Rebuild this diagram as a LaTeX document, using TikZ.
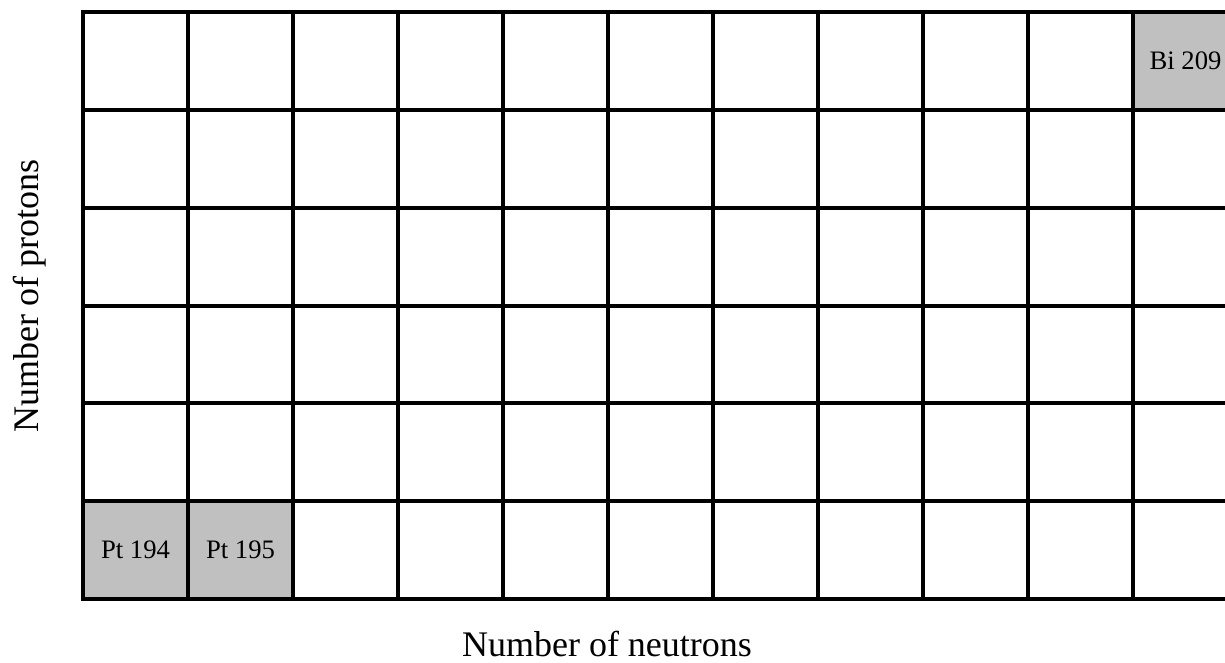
\documentclass[tikz,border=0pt]{standalone}
\usepackage{fontspec}
\setmainfont{Liberation Serif}
\definecolor{isogray}{HTML}{C0C0C0}
\begin{document}
\begin{tikzpicture}[x=0.75pt,y=0.75pt,
  iso/.style={fill=isogray,minimum width=78.75pt,minimum height=73.4pt,
    inner sep=0pt,font=\fontsize{20}{23}\selectfont},
  axis/.style={font=\fontsize{27}{32}\selectfont,anchor=base},
  gridline/.style={line width=3pt,line cap=rect}]
\useasboundingbox (0,0) rectangle (1225,662);
% the known isotopes
\node[iso] (pt194) at (135.5,111.9) {Pt 194};
\node[iso] (pt195) at (240.5,111.9) {Pt 195};
\node[iso] (bi209) at (1185.5,601.1) {Bi 209};
% chart grid
\foreach \i in {0,...,10}
  \draw[gridline] (83+105*\i,63) -- (83+105*\i,650);
\foreach \j in {0,...,6}
  \draw[gridline] (83,63+97.83*\j) -- (1240,63+97.83*\j);
% axes
\node[axis] (neutrons) at (607,6) {Number of neutrons};
\node[axis,rotate=90] (protons) at (38,366) {Number of protons};
\end{tikzpicture}
\end{document}
